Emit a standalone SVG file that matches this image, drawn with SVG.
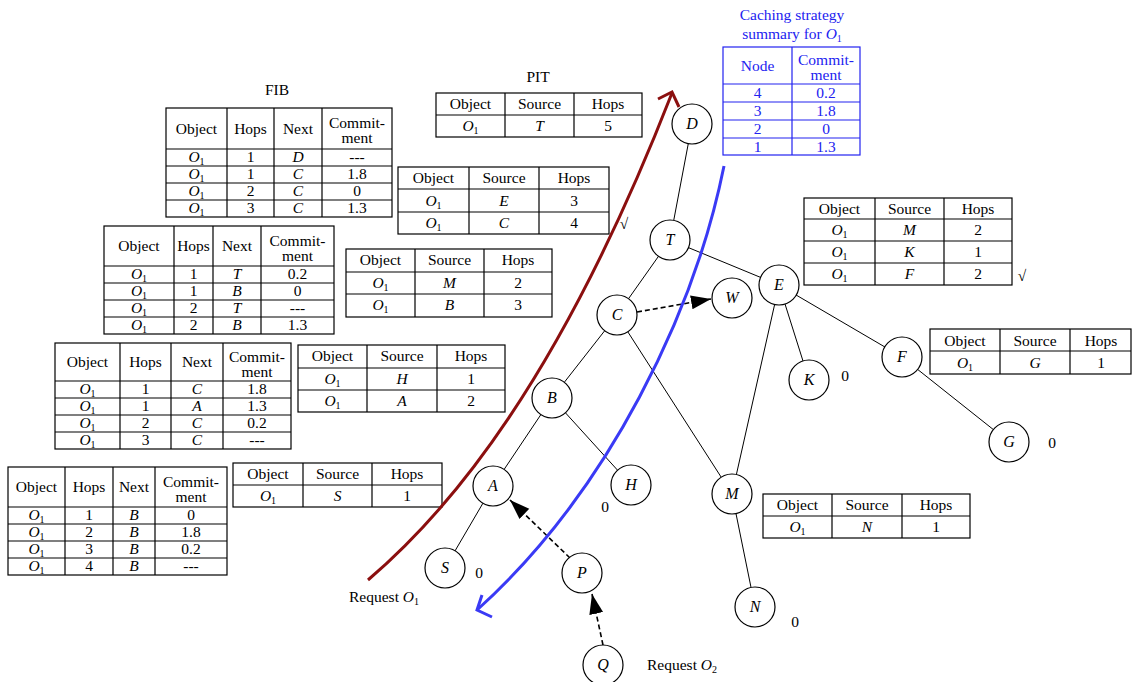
<svg xmlns="http://www.w3.org/2000/svg" width="1132" height="682" viewBox="0 0 1132 682">
<defs>
<style>
.ln{stroke:#000;stroke-width:1.2;fill:none}
.bl{stroke:#2222f0;stroke-width:1.2;fill:none}
.tx{font-family:"Liberation Serif","Times New Roman",serif;font-size:15.5px;text-anchor:middle;fill:#000}
.bt{fill:#2222f0}
.it{font-style:italic}
.sb{font-size:10px}
.nd circle{fill:#fff;stroke:#000;stroke-width:1.2}
.nd text{font-family:"Liberation Serif","Times New Roman",serif;font-size:16px;font-style:italic;text-anchor:middle}
.ed{stroke:#000;stroke-width:1}
.da{stroke:#000;stroke-width:1.6;stroke-dasharray:5,3;fill:none}
.lb{font-family:"Liberation Serif","Times New Roman",serif;font-size:15.5px;fill:#000}
</style>
<marker id="ah" markerUnits="userSpaceOnUse" markerWidth="22" markerHeight="16" refX="20" refY="7" orient="auto">
<path d="M0,0 L20,7 L0,14 z" fill="#000"/>
</marker>
</defs>
<rect width="1132" height="682" fill="#fff"/>

<!-- FIB 1 -->
<g id="fib1">
<text x="277" y="95" class="tx">FIB</text>
<rect x="166" y="108" width="226" height="109" class="ln"/>
<path class="ln" d="M227,108V217M274,108V217M322,108V217M166,149H392M166,166H392M166,183H392M166,200H392"/>
<text class="tx" y="133.5"><tspan x="196.5">Object</tspan><tspan x="250.5">Hops</tspan><tspan x="298">Next</tspan></text>
<text class="tx" x="357" y="128">Commit-</text><text class="tx" x="357" y="143">ment</text>
<text class="tx" x="196.5" y="162"><tspan class="it">O</tspan><tspan class="sb" dy="3">1</tspan></text><text class="tx" x="250.5" y="162">1</text><text class="tx it" x="298" y="162">D</text><text class="tx" x="357" y="162">---</text>
<text class="tx" x="196.5" y="179"><tspan class="it">O</tspan><tspan class="sb" dy="3">1</tspan></text><text class="tx" x="250.5" y="179">1</text><text class="tx it" x="298" y="179">C</text><text class="tx" x="357" y="179">1.8</text>
<text class="tx" x="196.5" y="196"><tspan class="it">O</tspan><tspan class="sb" dy="3">1</tspan></text><text class="tx" x="250.5" y="196">2</text><text class="tx it" x="298" y="196">C</text><text class="tx" x="357" y="196">0</text>
<text class="tx" x="196.5" y="213"><tspan class="it">O</tspan><tspan class="sb" dy="3">1</tspan></text><text class="tx" x="250.5" y="213">3</text><text class="tx it" x="298" y="213">C</text><text class="tx" x="357" y="213">1.3</text>
</g>

<!-- FIB 2 -->
<g id="fib2">
<rect x="104" y="226" width="230" height="108" class="ln"/>
<path class="ln" d="M174,226V334M213,226V334M261,226V334M104,266H334M104,283H334M104,300H334M104,317H334"/>
<text class="tx" y="251"><tspan x="139">Object</tspan><tspan x="193.5">Hops</tspan><tspan x="237">Next</tspan></text>
<text class="tx" x="297.5" y="245.5">Commit-</text><text class="tx" x="297.5" y="260.5">ment</text>
<text class="tx" x="139" y="279"><tspan class="it">O</tspan><tspan class="sb" dy="3">1</tspan></text><text class="tx" x="193.5" y="279">1</text><text class="tx it" x="237" y="279">T</text><text class="tx" x="297.5" y="279">0.2</text>
<text class="tx" x="139" y="296"><tspan class="it">O</tspan><tspan class="sb" dy="3">1</tspan></text><text class="tx" x="193.5" y="296">1</text><text class="tx it" x="237" y="296">B</text><text class="tx" x="297.5" y="296">0</text>
<text class="tx" x="139" y="313"><tspan class="it">O</tspan><tspan class="sb" dy="3">1</tspan></text><text class="tx" x="193.5" y="313">2</text><text class="tx it" x="237" y="313">T</text><text class="tx" x="297.5" y="313">---</text>
<text class="tx" x="139" y="330"><tspan class="it">O</tspan><tspan class="sb" dy="3">1</tspan></text><text class="tx" x="193.5" y="330">2</text><text class="tx it" x="237" y="330">B</text><text class="tx" x="297.5" y="330">1.3</text>
</g>

<!-- FIB 3 -->
<g id="fib3">
<rect x="55" y="343" width="236" height="106" class="ln"/>
<path class="ln" d="M120,343V449M171,343V449M223,343V449M55,381H291M55,398H291M55,415H291M55,432H291"/>
<text class="tx" y="367"><tspan x="87.5">Object</tspan><tspan x="145.5">Hops</tspan><tspan x="197">Next</tspan></text>
<text class="tx" x="257" y="361.5">Commit-</text><text class="tx" x="257" y="376.5">ment</text>
<text class="tx" x="87.5" y="394"><tspan class="it">O</tspan><tspan class="sb" dy="3">1</tspan></text><text class="tx" x="145.5" y="394">1</text><text class="tx it" x="197" y="394">C</text><text class="tx" x="257" y="394">1.8</text>
<text class="tx" x="87.5" y="411"><tspan class="it">O</tspan><tspan class="sb" dy="3">1</tspan></text><text class="tx" x="145.5" y="411">1</text><text class="tx it" x="197" y="411">A</text><text class="tx" x="257" y="411">1.3</text>
<text class="tx" x="87.5" y="428"><tspan class="it">O</tspan><tspan class="sb" dy="3">1</tspan></text><text class="tx" x="145.5" y="428">2</text><text class="tx it" x="197" y="428">C</text><text class="tx" x="257" y="428">0.2</text>
<text class="tx" x="87.5" y="445"><tspan class="it">O</tspan><tspan class="sb" dy="3">1</tspan></text><text class="tx" x="145.5" y="445">3</text><text class="tx it" x="197" y="445">C</text><text class="tx" x="257" y="445">---</text>
</g>

<!-- FIB 4 -->
<g id="fib4">
<rect x="8" y="467" width="219" height="108" class="ln"/>
<path class="ln" d="M65,467V575M113,467V575M155,467V575M8,507H227M8,524H227M8,541H227M8,558H227"/>
<text class="tx" y="492"><tspan x="36.5">Object</tspan><tspan x="89">Hops</tspan><tspan x="134">Next</tspan></text>
<text class="tx" x="191" y="486.5">Commit-</text><text class="tx" x="191" y="501.5">ment</text>
<text class="tx" x="36.5" y="520"><tspan class="it">O</tspan><tspan class="sb" dy="3">1</tspan></text><text class="tx" x="89" y="520">1</text><text class="tx it" x="134" y="520">B</text><text class="tx" x="191" y="520">0</text>
<text class="tx" x="36.5" y="537"><tspan class="it">O</tspan><tspan class="sb" dy="3">1</tspan></text><text class="tx" x="89" y="537">2</text><text class="tx it" x="134" y="537">B</text><text class="tx" x="191" y="537">1.8</text>
<text class="tx" x="36.5" y="554"><tspan class="it">O</tspan><tspan class="sb" dy="3">1</tspan></text><text class="tx" x="89" y="554">3</text><text class="tx it" x="134" y="554">B</text><text class="tx" x="191" y="554">0.2</text>
<text class="tx" x="36.5" y="571"><tspan class="it">O</tspan><tspan class="sb" dy="3">1</tspan></text><text class="tx" x="89" y="571">4</text><text class="tx it" x="134" y="571">B</text><text class="tx" x="191" y="571">---</text>
</g>

<!-- PIT D -->
<g id="pit1">
<text x="538" y="82" class="tx">PIT</text>
<rect x="436" y="93" width="206" height="44" class="ln"/>
<path class="ln" d="M505,93V137M574,93V137M436,115H642"/>
<text class="tx" y="109"><tspan x="470.5">Object</tspan><tspan x="539.5">Source</tspan><tspan x="608">Hops</tspan></text>
<text class="tx" x="470.5" y="131"><tspan class="it">O</tspan><tspan class="sb" dy="3">1</tspan></text><text class="tx it" x="539.5" y="131">T</text><text class="tx" x="608" y="131">5</text>
</g>

<!-- PIT T -->
<g id="pit2">
<rect x="398" y="167" width="211" height="67" class="ln"/>
<path class="ln" d="M469,167V234M539,167V234M398,189H609M398,212H609"/>
<text class="tx" y="183"><tspan x="433.5">Object</tspan><tspan x="504">Source</tspan><tspan x="574">Hops</tspan></text>
<text class="tx" x="433.5" y="206"><tspan class="it">O</tspan><tspan class="sb" dy="3">1</tspan></text><text class="tx it" x="504" y="206">E</text><text class="tx" x="574" y="206">3</text>
<text class="tx" x="433.5" y="228"><tspan class="it">O</tspan><tspan class="sb" dy="3">1</tspan></text><text class="tx it" x="504" y="228">C</text><text class="tx" x="574" y="228">4</text>
<text class="tx" x="624" y="229" font-size="12">√</text>
</g>

<!-- PIT C -->
<g id="pit3">
<rect x="346" y="249" width="206" height="68" class="ln"/>
<path class="ln" d="M415,249V317M484,249V317M346,272H552M346,294H552"/>
<text class="tx" y="265"><tspan x="380.5">Object</tspan><tspan x="449.5">Source</tspan><tspan x="518">Hops</tspan></text>
<text class="tx" x="380.5" y="288"><tspan class="it">O</tspan><tspan class="sb" dy="3">1</tspan></text><text class="tx it" x="449.5" y="288">M</text><text class="tx" x="518" y="288">2</text>
<text class="tx" x="380.5" y="310"><tspan class="it">O</tspan><tspan class="sb" dy="3">1</tspan></text><text class="tx it" x="449.5" y="310">B</text><text class="tx" x="518" y="310">3</text>
</g>

<!-- PIT B -->
<g id="pit4">
<rect x="298" y="345" width="207" height="67" class="ln"/>
<path class="ln" d="M367,345V412M437,345V412M298,368H505M298,390H505"/>
<text class="tx" y="361"><tspan x="332.5">Object</tspan><tspan x="402">Source</tspan><tspan x="471">Hops</tspan></text>
<text class="tx" x="332.5" y="384"><tspan class="it">O</tspan><tspan class="sb" dy="3">1</tspan></text><text class="tx it" x="402" y="384">H</text><text class="tx" x="471" y="384">1</text>
<text class="tx" x="332.5" y="406"><tspan class="it">O</tspan><tspan class="sb" dy="3">1</tspan></text><text class="tx it" x="402" y="406">A</text><text class="tx" x="471" y="406">2</text>
</g>

<!-- PIT A -->
<g id="pit5">
<rect x="233" y="463" width="209" height="44" class="ln"/>
<path class="ln" d="M303,463V507M372,463V507M233,485H442"/>
<text class="tx" y="479"><tspan x="268">Object</tspan><tspan x="337.5">Source</tspan><tspan x="407">Hops</tspan></text>
<text class="tx" x="268" y="501"><tspan class="it">O</tspan><tspan class="sb" dy="3">1</tspan></text><text class="tx it" x="337.5" y="501">S</text><text class="tx" x="407" y="501">1</text>
</g>

<!-- PIT E -->
<g id="pit6">
<rect x="804" y="198" width="208" height="87" class="ln"/>
<path class="ln" d="M875,198V285M944,198V285M804,219H1012M804,241H1012M804,263H1012"/>
<text class="tx" y="214"><tspan x="839.5">Object</tspan><tspan x="909.5">Source</tspan><tspan x="978">Hops</tspan></text>
<text class="tx" x="839.5" y="235"><tspan class="it">O</tspan><tspan class="sb" dy="3">1</tspan></text><text class="tx it" x="909.5" y="235">M</text><text class="tx" x="978" y="235">2</text>
<text class="tx" x="839.5" y="257"><tspan class="it">O</tspan><tspan class="sb" dy="3">1</tspan></text><text class="tx it" x="909.5" y="257">K</text><text class="tx" x="978" y="257">1</text>
<text class="tx" x="839.5" y="279"><tspan class="it">O</tspan><tspan class="sb" dy="3">1</tspan></text><text class="tx it" x="909.5" y="279">F</text><text class="tx" x="978" y="279">2</text>
<text class="tx" x="1022" y="281" font-size="12">√</text>
</g>

<!-- PIT F -->
<g id="pit7">
<rect x="930" y="329" width="201" height="45" class="ln"/>
<path class="ln" d="M1000,329V374M1070,329V374M930,351H1131"/>
<text class="tx" y="346"><tspan x="965">Object</tspan><tspan x="1035">Source</tspan><tspan x="1101">Hops</tspan></text>
<text class="tx" x="965" y="368"><tspan class="it">O</tspan><tspan class="sb" dy="3">1</tspan></text><text class="tx it" x="1035" y="368">G</text><text class="tx" x="1101" y="368">1</text>
</g>

<!-- PIT M -->
<g id="pit8">
<rect x="763" y="494" width="207" height="44" class="ln"/>
<path class="ln" d="M832,494V538M902,494V538M763,516H970"/>
<text class="tx" y="510"><tspan x="797.5">Object</tspan><tspan x="867">Source</tspan><tspan x="936">Hops</tspan></text>
<text class="tx" x="797.5" y="532"><tspan class="it">O</tspan><tspan class="sb" dy="3">1</tspan></text><text class="tx it" x="867" y="532">N</text><text class="tx" x="936" y="532">1</text>
</g>

<!-- Caching summary -->
<g id="summary">
<text class="tx bt" x="792" y="20">Caching strategy</text>
<text class="tx bt" x="792" y="39">summary for <tspan class="it">O</tspan><tspan class="sb" dy="3">1</tspan></text>
<rect x="723" y="47" width="137" height="108" class="bl"/>
<path class="bl" d="M792,47V155M723,84H860M723,102H860M723,120H860M723,138H860"/>
<text class="tx bt" x="757.5" y="70.5">Node</text>
<text class="tx bt" x="826" y="65">Commit-</text><text class="tx bt" x="826" y="80">ment</text>
<text class="tx bt" x="757.5" y="98">4</text><text class="tx bt" x="826" y="98">0.2</text>
<text class="tx bt" x="757.5" y="116">3</text><text class="tx bt" x="826" y="116">1.8</text>
<text class="tx bt" x="757.5" y="134">2</text><text class="tx bt" x="826" y="134">0</text>
<text class="tx bt" x="757.5" y="152">1</text><text class="tx bt" x="826" y="152">1.3</text>
</g>

<!-- Connectors -->
<g id="connectors">
<path class="ed" d="M692,124L670,240M670,240L617,315M670,240L779,285M617,315L552,398M617,315L732,494M552,398L493,486M552,398L631,485M493,486L445,568M779,285L809,380M779,285L732,494M779,285L902,357M902,357L1009,442M732,494L755,607"/>
<path class="da" d="M637,312L711,299" marker-end="url(#ah)"/>
<path class="da" d="M570,558L510,500" marker-end="url(#ah)"/>
<path class="da" d="M603,645L592,594" marker-end="url(#ah)"/>
<path d="M368,580C450,510 560,380 672,93" fill="none" stroke="#8b0f0f" stroke-width="3"/>
<path d="M658,99L672,92L679,107" fill="none" stroke="#8b0f0f" stroke-width="3"/>
<path d="M724,166C695,310 610,490 477,610" fill="none" stroke="#3a3af5" stroke-width="3"/>
<path d="M482,595L477,610L492,617" fill="none" stroke="#3a3af5" stroke-width="3"/>
</g>

<!-- Nodes -->
<g id="node-D" class="nd"><circle cx="692" cy="124" r="20"/><text x="692" y="129">D</text></g>
<g id="node-T" class="nd"><circle cx="670" cy="240" r="20"/><text x="670" y="245">T</text></g>
<g id="node-W" class="nd"><circle cx="732" cy="298" r="20"/><text x="732" y="303">W</text></g>
<g id="node-E" class="nd"><circle cx="779" cy="285" r="20"/><text x="779" y="290">E</text></g>
<g id="node-C" class="nd"><circle cx="617" cy="315" r="20"/><text x="617" y="320">C</text></g>
<g id="node-B" class="nd"><circle cx="552" cy="398" r="20"/><text x="552" y="403">B</text></g>
<g id="node-K" class="nd"><circle cx="809" cy="380" r="20"/><text x="809" y="385">K</text></g>
<g id="node-F" class="nd"><circle cx="902" cy="357" r="20"/><text x="902" y="362">F</text></g>
<g id="node-G" class="nd"><circle cx="1009" cy="442" r="20"/><text x="1009" y="447">G</text></g>
<g id="node-A" class="nd"><circle cx="493" cy="486" r="20"/><text x="493" y="491">A</text></g>
<g id="node-H" class="nd"><circle cx="631" cy="485" r="20"/><text x="631" y="490">H</text></g>
<g id="node-M" class="nd"><circle cx="732" cy="494" r="20"/><text x="732" y="499">M</text></g>
<g id="node-S" class="nd"><circle cx="445" cy="568" r="20"/><text x="445" y="573">S</text></g>
<g id="node-P" class="nd"><circle cx="582" cy="573" r="20"/><text x="582" y="578">P</text></g>
<g id="node-N" class="nd"><circle cx="755" cy="607" r="20"/><text x="755" y="612">N</text></g>
<g id="node-Q" class="nd"><circle cx="603" cy="665" r="20"/><text x="603" y="670">Q</text></g>

<!-- labels -->
<g id="labels">
<text class="tx" x="845" y="381">0</text>
<text class="tx" x="1052" y="448">0</text>
<text class="tx" x="605" y="512">0</text>
<text class="tx" x="479" y="578">0</text>
<text class="tx" x="795" y="627">0</text>
<text class="lb" x="349" y="602">Request <tspan class="it">O</tspan><tspan class="sb" dy="3">1</tspan></text>
<text class="lb" x="647" y="670">Request <tspan class="it">O</tspan><tspan class="sb" dy="3">2</tspan></text>
</g>
</svg>
